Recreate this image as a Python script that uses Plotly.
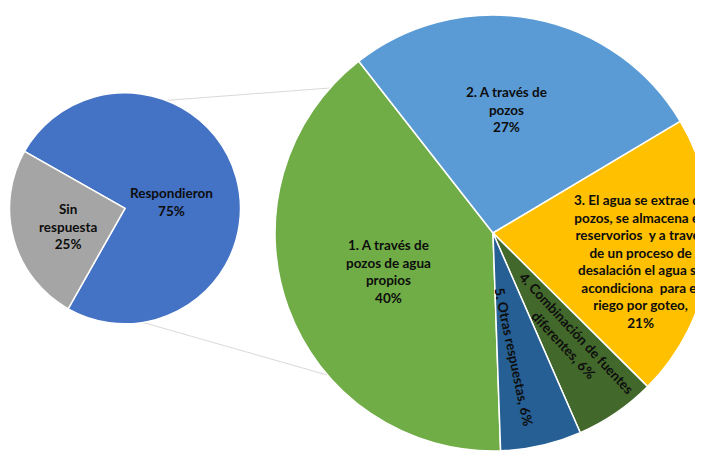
import math
import plotly.graph_objects as go

W, H = 703, 452

# ---------------- data ----------------
primary_labels = ["Respondieron", "Sin<br>respuesta"]
primary_values = [75, 25]

secondary_labels = [
    "1. A través de<br>pozos de agua<br>propios",
    "2. A través de<br>pozos",
    "3. El agua se extrae de<br>pozos, se almacena en<br>reservorios  y a través<br>de un proceso de<br>desalación el agua se<br>acondiciona  para el<br>riego por goteo,",
    "4. Combinación de fuentes<br>diferentes,",
    "5. Otras respuestas,",
]
secondary_values = [40, 27, 21, 6, 6]

# ---------------- style ----------------
primary_colors = ["#4472C4", "#A5A5A5"]
secondary_colors = ["#70AD47", "#5B9BD5", "#FFC000", "#43682B", "#265F93"]
primary_sep = ["<br>", "<br>"]
secondary_sep = ["<br>", "<br>", "<br>", " ", " "]

# the html body has a default 8px margin: geometry below is in window pixels
PAGE_MARGIN = 8

# pie geometry in window pixels (center x, center y from top, radius)
P_CX, P_CY, P_R = 125, 208.3, 115.5
S_CX, S_CY, S_R = 493, 233, 218
P_ROT = 299.5
S_ROT = 178

# label placement: (angle offset from slice middle, radius fraction, text angle)
primary_lab_pos = [(7.8, 0.41, 0), (-1.9, 0.52, 0)]
secondary_lab_pos = [(-0.3, 0.512, 0), (-4.6, 0.571, 0), (4.1, 0.690, 0),
                     (-1.4, 0.600, 47), (3.1, 0.575, 78)]

# connector lines: (angle on primary pie, angle on secondary pie)
connectors = [(20.9, 311.7), (171.1, 229.3)]

FONT = "Lato"
TXT_COLOR = "#0D0D0D"
FSIZE = 13.5


def to_paper(px, py):
    return (px - PAGE_MARGIN) / W, 1 - (py - PAGE_MARGIN) / H


def domain(cx, cy, r):
    x0, y1 = to_paper(cx - r, cy - r)
    x1, y0 = to_paper(cx + r, cy + r)
    return dict(x=[max(0, x0), min(1, x1)], y=[max(0, y0), min(1, y1)])


def point(cx, cy, r, ang, f=1.0):
    a = math.radians(ang)
    return cx + f * r * math.sin(a), cy - f * r * math.cos(a)


def mids(values, rotation):
    tot = float(sum(values))
    acc = rotation
    out = []
    for v in values:
        span = 360.0 * v / tot
        out.append(acc + span / 2)
        acc += span
    return out


fig = go.Figure()

fig.add_trace(go.Pie(
    labels=[l.replace("<br>", " ") for l in primary_labels],
    values=primary_values,
    marker=dict(colors=primary_colors, line=dict(color="white", width=1.5)),
    sort=False, direction="clockwise", rotation=P_ROT,
    textinfo="none", hoverinfo="label+percent",
    domain=domain(P_CX, P_CY, P_R), showlegend=False,
))

fig.add_trace(go.Pie(
    labels=[l.replace("<br>", " ") for l in secondary_labels],
    values=secondary_values,
    marker=dict(colors=secondary_colors, line=dict(color="white", width=1.5)),
    sort=False, direction="clockwise", rotation=S_ROT,
    textinfo="none", hoverinfo="label+percent",
    domain=domain(S_CX, S_CY, S_R), showlegend=False,
))

annotations = []


def add_labels(labels, values, seps, positions, cx, cy, r, rotation):
    tot = float(sum(values))
    for lab, v, sep, pos, m in zip(labels, values, seps, positions, mids(values, rotation)):
        off, f, ta = pos
        px, py = point(cx, cy, r, m + off, f)
        x, y = to_paper(px, py)
        pct = round(100 * v / tot)
        annotations.append(dict(
            x=x, y=y, xref="paper", yref="paper",
            text=f"{lab}{sep}{pct}%", showarrow=False, textangle=ta,
            xanchor="center", yanchor="middle", align="center",
            font=dict(family=FONT, size=FSIZE, color=TXT_COLOR, weight="bold"),
        ))


add_labels(primary_labels, primary_values, primary_sep, primary_lab_pos,
           P_CX, P_CY, P_R, P_ROT)
add_labels(secondary_labels, secondary_values, secondary_sep, secondary_lab_pos,
           S_CX, S_CY, S_R, S_ROT)

shapes = []
for a1, a2 in connectors:
    x0, y0 = to_paper(*point(P_CX, P_CY, P_R, a1))
    x1, y1 = to_paper(*point(S_CX, S_CY, S_R, a2))
    shapes.append(dict(type="line", xref="paper", yref="paper",
                       x0=x0, y0=y0, x1=x1, y1=y1,
                       line=dict(color="#D9D9D9", width=1), layer="below"))

fig.update_layout(
    width=W, height=H,
    margin=dict(l=0, r=0, t=0, b=0),
    paper_bgcolor="white", plot_bgcolor="white",
    font=dict(family=FONT, size=FSIZE, color=TXT_COLOR),
    annotations=annotations, shapes=shapes,
    showlegend=False,
)

fig.write_html("out.html")
